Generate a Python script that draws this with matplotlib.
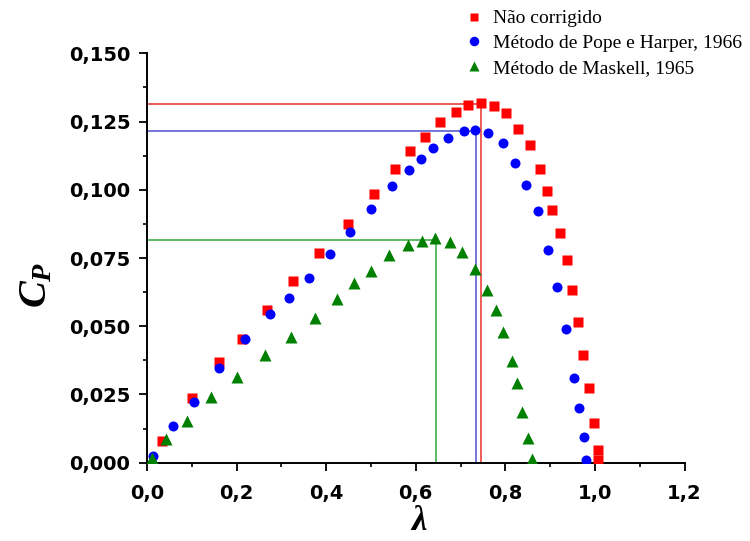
import matplotlib
matplotlib.use("Agg")
import matplotlib.pyplot as plt
from matplotlib.ticker import MultipleLocator, FixedLocator

# ---- data ----
red_x = [0.033, 0.100, 0.161, 0.213, 0.268, 0.326, 0.385, 0.449, 0.506, 0.553, 0.588, 0.620,
         0.653, 0.689, 0.717, 0.745, 0.774, 0.801, 0.829, 0.855, 0.878, 0.894, 0.905, 0.921,
         0.937, 0.948, 0.962, 0.974, 0.986, 0.997, 1.006, 1.007]
red_y = [0.0080, 0.0236, 0.0368, 0.0454, 0.0558, 0.0666, 0.0767, 0.0875, 0.0986, 0.1077, 0.1142, 0.1195,
         0.1247, 0.1285, 0.1310, 0.1318, 0.1308, 0.1280, 0.1223, 0.1163, 0.1077, 0.0997, 0.0926, 0.0841,
         0.0741, 0.0631, 0.0515, 0.0395, 0.0275, 0.0144, 0.0047, 0.0009]

blue_x = [0.013, 0.057, 0.104, 0.161, 0.219, 0.275, 0.318, 0.362, 0.408, 0.454, 0.501, 0.547,
          0.586, 0.611, 0.638, 0.673, 0.708, 0.733, 0.761, 0.794, 0.822, 0.846, 0.872, 0.896,
          0.916, 0.935, 0.954, 0.964, 0.975, 0.981]
blue_y = [0.0026, 0.0136, 0.0224, 0.0346, 0.0452, 0.0545, 0.0605, 0.0677, 0.0764, 0.0844, 0.0930, 0.1013,
          0.1074, 0.1112, 0.1153, 0.1189, 0.1215, 0.1219, 0.1208, 0.1173, 0.1098, 0.1017, 0.0922, 0.0781,
          0.0645, 0.0489, 0.0311, 0.0199, 0.0093, 0.0010]

green_x = [0.012, 0.043, 0.090, 0.143, 0.201, 0.264, 0.322, 0.376, 0.424, 0.463, 0.499, 0.541,
           0.582, 0.615, 0.644, 0.676, 0.703, 0.732, 0.758, 0.779, 0.794, 0.815, 0.826, 0.838,
           0.851, 0.859]
green_y = [0.0016, 0.0087, 0.0154, 0.0240, 0.0315, 0.0394, 0.0462, 0.0531, 0.0599, 0.0657, 0.0704, 0.0761,
           0.0798, 0.0812, 0.0822, 0.0808, 0.0773, 0.0710, 0.0633, 0.0560, 0.0480, 0.0373, 0.0291, 0.0187,
           0.0089, 0.0014]

# peak reference lines (lambda, Cp)
peak_red = (0.745, 0.1314)
peak_blue = (0.734, 0.1214)
peak_green = (0.645, 0.0815)

labels = ["Não corrigido", "Método de Pope e Harper, 1966", "Método de Maskell, 1965"]
xticks = [0.0, 0.2, 0.4, 0.6, 0.8, 1.0, 1.2]
xticklabels = ["0,0", "0,2", "0,4", "0,6", "0,8", "1,0", "1,2"]
yticks = [0.0, 0.025, 0.05, 0.075, 0.1, 0.125, 0.15]
yticklabels = ["0,000", "0,025", "0,050", "0,075", "0,100", "0,125", "0,150"]

plt.rcParams['mathtext.fontset'] = 'custom'
plt.rcParams['mathtext.it'] = 'Liberation Serif:italic:bold'
plt.rcParams['mathtext.rm'] = 'Liberation Serif:bold'

fig = plt.figure(figsize=(7.5, 5.41), dpi=100)
ax = fig.add_axes([0.196, 0.1447, 0.9127 - 0.196, 0.9015 - 0.1447])

# reference lines
for (px, py), c in [(peak_red, '#e8302a'), (peak_blue, '#5050d0'), (peak_green, '#2eaa3a')]:
    ax.plot([0, px], [py, py], color=c, lw=1.1, zorder=1)
    ax.plot([px, px], [0, py], color=c, lw=1.1, zorder=1)

ax.plot(red_x, red_y, 's', color='#ff0000', ms=6.6, mec='none', label=labels[0], zorder=3)
ax.plot(blue_x, blue_y, 'o', color='#0000ff', ms=7.2, mec='none', label=labels[1], zorder=3)
ax.plot(green_x, green_y, '^', color='#008000', ms=8, mec='none', label=labels[2], zorder=3)

ax.set_xlim(0, 1.2)
ax.set_ylim(0, 0.15)
ax.spines['top'].set_visible(False)
ax.spines['right'].set_visible(False)
for s in ['left', 'bottom']:
    ax.spines[s].set_linewidth(1.4)

ax.xaxis.set_major_locator(FixedLocator(xticks))
ax.set_xticklabels(xticklabels)
ax.yaxis.set_major_locator(FixedLocator(yticks))
ax.set_yticklabels(yticklabels)
ax.xaxis.set_minor_locator(MultipleLocator(0.1))
ax.yaxis.set_minor_locator(MultipleLocator(0.0125))
ax.tick_params(which='major', direction='out', length=6, width=1.3, labelsize=14, pad=6)
ax.tick_params(which='minor', direction='out', length=3.2, width=1.2)
ax.tick_params(axis='x', which='major', pad=9)
for lab in ax.get_xticklabels() + ax.get_yticklabels():
    lab.set_fontweight('bold')
    lab.set_fontfamily('DejaVu Sans')

ax.set_xlabel('λ', fontfamily='Liberation Serif', fontstyle='italic', fontweight='bold', fontsize=25)
ax.xaxis.set_label_coords((419 - 147) / 537.5, -0.104)
ax.set_ylabel(r'$C_P$', fontsize=29)
ax.yaxis.set_label_coords(-0.171, 0.434)

leg = ax.legend(loc='upper left', bbox_to_anchor=(0.601, 1.007), bbox_transform=fig.transFigure,
                frameon=False, prop={'family': 'Liberation Serif', 'size': 14},
                handletextpad=0.45, labelspacing=0.37, borderaxespad=0.3, handlelength=1.0,
                markerscale=0.95)

fig.savefig('out.png', dpi=100)
